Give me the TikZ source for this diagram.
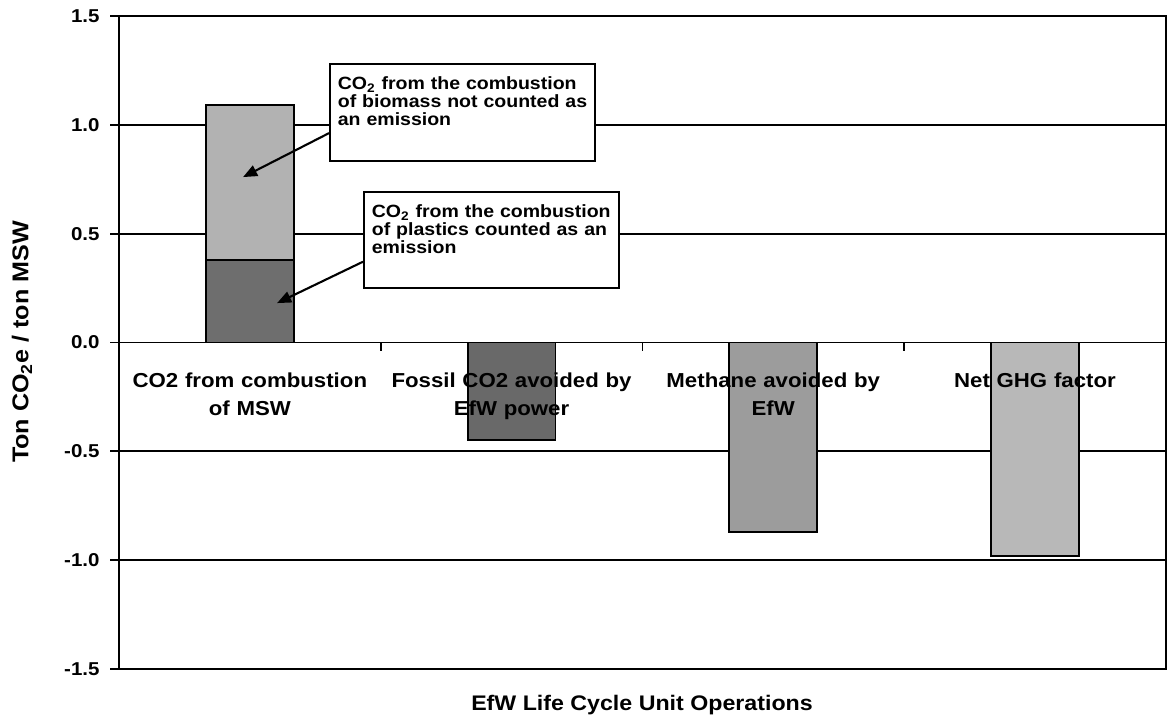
\documentclass[tikz,border=0pt]{standalone}
\usepackage{fontspec}
\setmainfont{Liberation Sans}[FakeStretch=1.1]
\usetikzlibrary{arrows.meta,calc}

\definecolor{biomassgray}{gray}{0.70}
\definecolor{plasticgray}{gray}{0.43}
\definecolor{fossilgray}{gray}{0.41}
\definecolor{methanegray}{gray}{0.61}
\definecolor{netgray}{gray}{0.72}

\begin{document}
\begin{tikzpicture}[x = 0.02cm, y = -0.02cm, font = \bfseries,
  bar/.style = {draw, line width = 1.1pt},
  gridline/.style = {line width = 1pt},
  catlabel/.style = {anchor = base, align = center, text width = 150pt, inner sep = 0pt, font = \bfseries\fontsize{11.5}{15.9}\selectfont},
  ticklabel/.style = {anchor = east, inner sep = 0pt, font = \bfseries\fontsize{10.6}{12}\selectfont},
  callout/.style = {rectangle, draw, fill = white, line width = 1.1pt, anchor = north west, align = left, inner xsep = 4.5pt, inner ysep = 0pt, text height = 14.5pt, text depth = 40.3pt, font = \bfseries\fontsize{10.1}{10.2}\selectfont},
  pointer/.style = {very thick, -{Triangle[length = 8pt, width = 6.5pt]}}]

\useasboundingbox (0, 0) rectangle (1169, 723);

%%% Axis titles
\node[font = \bfseries\fontsize{12}{14}\selectfont] (xtitle) at (642, 705) {EfW Life Cycle Unit Operations};

\node[rotate = 90, font = \bfseries\fontsize{13}{15}\selectfont] (ytitle) at (22, 342) {Ton CO\textsubscript{2}e / ton MSW};

%%% Chart area
\begin{scope}[shift = {(119, 342.5)}, x = 5.235cm, y = 4.354cm]

%% grid and ticks
\foreach \v/\lab in {1.5/1.5, 1/1.0, 0.5/0.5, 0/0.0, -0.5/-0.5, -1/-1.0, -1.5/-1.5}
{
  \draw[gridline] (-0.034, \v) -- (4, \v);
  \node[ticklabel] (tick\lab) at (-0.073, \v) {\lab};
}

\foreach \c in {1, 2, 3}
  \draw[gridline] (\c, 0) -- (\c, -0.037);

%% bars
\filldraw[bar, fill = plasticgray] (0.332, 0) rectangle (0.668, 0.38);
\filldraw[bar, fill = biomassgray] (0.332, 0.38) rectangle (0.668, 1.09);

\filldraw[bar, fill = fossilgray] (1.332, 0) rectangle (1.668, -0.45);

\filldraw[bar, fill = methanegray] (2.332, 0) rectangle (2.668, -0.87);

\filldraw[bar, fill = netgray] (3.332, 0) rectangle (3.668, -0.98);

\coordinate (bioTip) at (0.474, 0.760);
\coordinate (plasticTip) at (0.604, 0.181);

%% frame
\draw[line width = 1.1pt] (0, -1.5) rectangle (4, 1.5);

%% category labels
\node[catlabel] (msw) at (0.5, -0.209) {CO2 from combustion\\ of MSW};

\node[catlabel] (fossil) at (1.5, -0.209) {Fossil CO2 avoided by\\ EfW power};

\node[catlabel] (methane) at (2.5, -0.209) {Methane avoided by\\ EfW};

\node[catlabel] (net) at (3.5, -0.209) {Net GHG factor};

\end{scope}

%%% Callouts
\node[callout, text width = 142pt] (biomass) at (329, 63.4) {CO\textsubscript{2} from the combustion\\ of biomass not counted as\\ an emission};

\node[callout, text width = 136pt] (plastics) at (363, 191) {CO\textsubscript{2} from the combustion\\ of plastics counted as an\\ emission};

\draw[pointer] ($(biomass.north west)!0.71!(biomass.south west)$) -- (bioTip);

\draw[pointer] ($(plastics.north west)!0.72!(plastics.south west)$) -- (plasticTip);

\end{tikzpicture}
\end{document}
